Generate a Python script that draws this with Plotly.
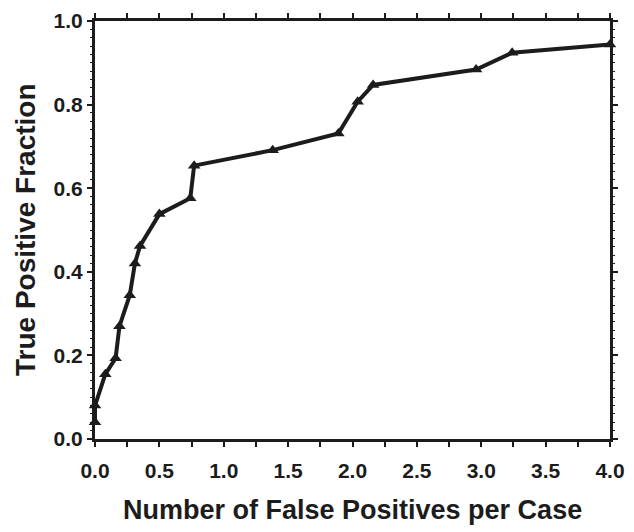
import plotly.graph_objects as go

# FROC points
fp_per_case = [0.0, 0.0, 0.08, 0.16, 0.19, 0.27, 0.31, 0.35, 0.50, 0.74, 0.77,
               1.38, 1.89, 2.04, 2.16, 2.96, 3.24, 4.0]
tp_fraction = [0.04, 0.08, 0.155, 0.193, 0.27, 0.344, 0.42, 0.462, 0.538, 0.576, 0.654,
               0.691, 0.731, 0.807, 0.847, 0.884, 0.924, 0.944]

ink = "#1c1c1c"
font_family = "Liberation Sans, Arial"

fig = go.Figure()
fig.add_trace(go.Scatter(
    x=fp_per_case, y=tp_fraction, mode="lines+markers",
    line=dict(color=ink, width=4),
    marker=dict(symbol="triangle-up", size=11, color=ink),
    showlegend=False, cliponaxis=False,
))

fig.update_xaxes(
    range=[0, 4.0], dtick=0.5, tickformat=".1f", automargin=False,
    showgrid=False, zeroline=False,
    showline=True, linecolor=ink, linewidth=3, mirror="ticks",
    ticks="outside", ticklen=5, tickwidth=1.5, tickcolor=ink, ticklabelstandoff=6,
    minor=dict(dtick=0.25, ticks="outside", ticklen=5, tickwidth=1.5, tickcolor=ink),
    tickfont=dict(size=21, color=ink, family=font_family, weight="bold"),
)
fig.update_yaxes(
    range=[0, 1.0], dtick=0.2, tickformat=".1f", automargin=False,
    showgrid=False, zeroline=False,
    showline=True, linecolor=ink, linewidth=3, mirror="ticks",
    ticks="outside", ticklen=5, tickwidth=1.5, tickcolor=ink,
    minor=dict(dtick=0.02, ticks="outside", ticklen=2, tickwidth=1, tickcolor=ink),
    tickfont=dict(size=21, color=ink, family=font_family, weight="bold"),
)

fig.add_annotation(
    text="Number of False Positives per Case", xref="paper", yref="paper",
    x=0.5, y=0, yshift=-71, showarrow=False, xanchor="center", yanchor="middle",
    font=dict(size=27, color=ink, family=font_family, weight="bold"),
)
fig.add_annotation(
    text="True Positive Fraction", xref="paper", yref="paper",
    x=0, y=0.5, xshift=-70, showarrow=False, textangle=-90,
    xanchor="center", yanchor="middle",
    font=dict(size=28, color=ink, family=font_family, weight="bold"),
)

# page body keeps its default 8px margin, so the figure is shrunk by that much
fig.update_layout(
    width=626, height=524,
    margin=dict(l=87, r=24, t=13, b=93),
    plot_bgcolor="white", paper_bgcolor="white",
)

fig.write_html("out.html")
